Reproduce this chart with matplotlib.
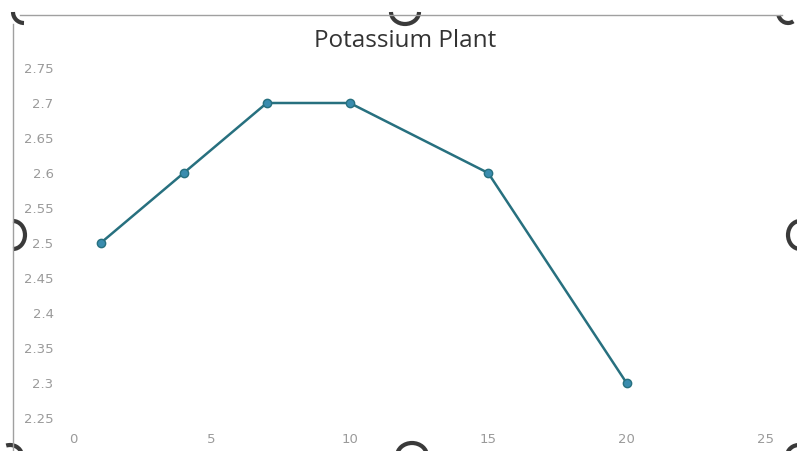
import matplotlib
matplotlib.use("Agg")
import matplotlib.pyplot as plt
from matplotlib.patches import Arc

# Data
x_vals = [1, 4, 7, 10, 15, 20]
y_vals = [2.5, 2.6, 2.7, 2.7, 2.6, 2.3]
x_ticks = [0, 5, 10, 15, 20, 25]
y_ticks = [2.25, 2.3, 2.35, 2.4, 2.45, 2.5, 2.55, 2.6, 2.65, 2.7, 2.75]
title = "Potassium Plant"

W, H = 797, 451
fig = plt.figure(figsize=(W / 100, H / 100), dpi=100)
fig.patch.set_facecolor("white")

# overlay for frame and selection handles (pixel coordinates, y from top)
ov = fig.add_axes([0, 0, 1, 1], zorder=0)
ov.set_xlim(0, W)
ov.set_ylim(0, H)
ov.axis("off")


def P(x, y):
    return (x, H - y)


ov.plot([20, 782], [H - 15, H - 15], color="#a0a0a0", lw=1.0)
ov.plot([13, 13], [H - 24, 0], color="#a0a0a0", lw=1.0)
hk = dict(color="#3a3a3a", lw=3.0)
ov.add_patch(Arc(P(24, 12), 22, 22, theta1=180, theta2=270, **hk))
ov.add_patch(Arc(P(405, 12), 28, 24, theta1=180, theta2=360, **hk))
ov.add_patch(Arc(P(788, 12), 20, 22, theta1=200, theta2=300, **hk))
ov.add_patch(Arc(P(13, 235), 24, 28, theta1=270, theta2=90, **hk))
ov.add_patch(Arc(P(800, 235), 24, 28, theta1=90, theta2=270, **hk))
ov.add_patch(Arc(P(412, 456), 30, 26, theta1=0, theta2=180, **hk))
ov.add_patch(Arc(P(10, 456), 24, 22, theta1=10, theta2=110, **hk))
ov.add_patch(Arc(P(799, 456), 24, 22, theta1=70, theta2=170, **hk))

left, right = 73 / W, 765 / W
bottom, top = 1 - 418 / H, 1 - 68 / H
ax = fig.add_axes([left, bottom, right - left, top - bottom], zorder=1)
ax.patch.set_alpha(0)
ax.plot(x_vals, y_vals, color="#27707f", lw=1.8, marker="o", markersize=6,
        markerfacecolor="#3a8cae", markeredgecolor="#27707f", zorder=3)
ax.set_xlim(0, 25)
ax.set_ylim(2.25, 2.75)
ax.set_xticks(x_ticks)
ax.set_xticklabels([str(t) for t in x_ticks])
ax.set_yticks(y_ticks)
ax.set_yticklabels([f"{t:g}" for t in y_ticks])
for s in ax.spines.values():
    s.set_visible(False)
ax.tick_params(axis="both", length=0, labelsize=9.5, labelcolor="#9a9a9a")
ax.tick_params(axis="y", pad=14)
ax.tick_params(axis="x", pad=11)

fig.text(405 / W, 1 - 41 / H, title, ha="center", va="center",
         fontsize=17.5, color="#333333", family="Open Sans")

fig.savefig("out.png", dpi=100)
